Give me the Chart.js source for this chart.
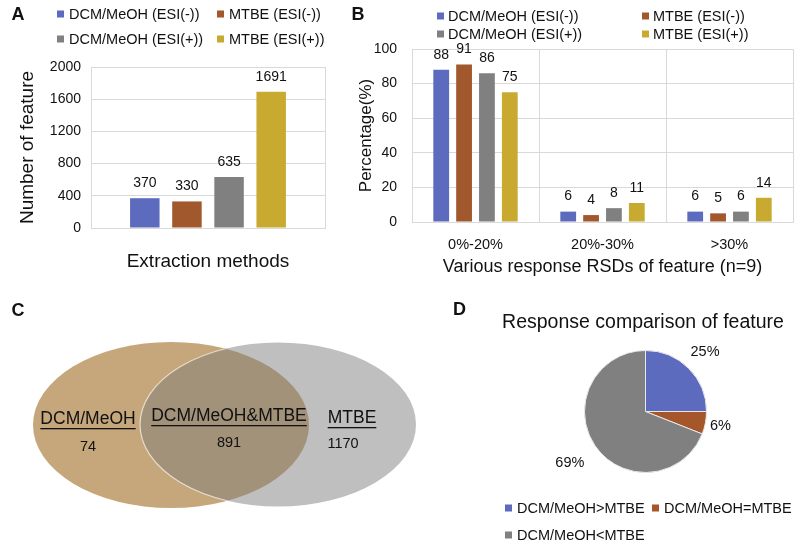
<!DOCTYPE html>
<html>
<head>
<meta charset="utf-8">
<script src="https://cdn.jsdelivr.net/npm/chart.js@4.4.0/dist/chart.umd.min.js"></script>
<style>
  body { margin: 0; background: #fff; }
  #wrap { position: relative; width: 800px; height: 546px; overflow: hidden; }
  canvas { position: absolute; }
</style>
</head>
<body>
<div id="wrap">
  <canvas id="chartA" width="335" height="285" style="left:0;top:0;width:335px;height:285px"></canvas>
  <canvas id="chartB" width="465" height="285" style="left:335px;top:0;width:465px;height:285px"></canvas>
  <canvas id="chartC" width="450" height="261" style="left:0;top:285px;width:450px;height:261px"></canvas>
  <canvas id="chartD" width="350" height="261" style="left:450px;top:285px;width:350px;height:261px"></canvas>
</div>
<script>
// data
const methods = ['DCM/MeOH (ESI(-))', 'MTBE (ESI(-))', 'DCM/MeOH (ESI(+))', 'MTBE (ESI(+))'];
const featureCounts = [370, 330, 635, 1691];

const rsdRanges = ['0%-20%', '20%-30%', '>30%'];
const rsdDcmNeg = [88, 6, 6];
const rsdMtbeNeg = [91, 4, 5];
const rsdDcmPos = [86, 8, 6];
const rsdMtbePos = [75, 11, 14];

const vennNames = ['DCM/MeOH', 'DCM/MeOH&MTBE', 'MTBE'];
const vennCounts = [74, 891, 1170];

const compareLabels = ['DCM/MeOH>MTBE', 'DCM/MeOH=MTBE', 'DCM/MeOH<MTBE'];
const comparePct = [25, 6, 69];

const methodColors = ['#5c6bbd', '#a0582c', '#808080', '#c9aa30'];
const FONT = "'Liberation Sans', Arial, sans-serif";
Chart.defaults.font.family = FONT;
Chart.defaults.color = '#111';

// little plugins: legend in a grid, value labels, free text
const gridLegend = {
  id: 'gridLegend',
  afterDraw(chart, args, opts) {
    const ctx = chart.ctx;
    let items;
    if (opts.fromLabels) {
      items = chart.data.labels.map((l, i) => ({text: l, color: chart.data.datasets[0].backgroundColor[i]}));
    } else {
      items = chart.data.datasets.map(d => ({text: d.label, color: d.backgroundColor}));
    }
    ctx.save();
    ctx.font = opts.font;
    ctx.textBaseline = 'middle';
    ctx.textAlign = 'left';
    items.forEach((it, i) => {
      const col = i % opts.cols, row = Math.floor(i / opts.cols);
      const x = opts.x + col * opts.colW, y = opts.y + row * opts.rowH;
      ctx.fillStyle = it.color;
      ctx.fillRect(x, y - opts.box / 2, opts.box, opts.box);
      ctx.fillStyle = '#111';
      ctx.fillText(it.text, x + opts.box + opts.gap, y + 1);
    });
    ctx.restore();
  }
};

const valueLabels = {
  id: 'valueLabels',
  afterDatasetsDraw(chart, args, opts) {
    const ctx = chart.ctx;
    ctx.save();
    ctx.font = opts.font;
    ctx.fillStyle = '#111';
    ctx.textAlign = 'center';
    ctx.textBaseline = 'middle';
    chart.data.datasets.forEach((ds, i) => {
      chart.getDatasetMeta(i).data.forEach((bar, j) => {
        ctx.fillText(ds.data[j], bar.x, bar.y - opts.offset);
      });
    });
    ctx.restore();
  }
};

const panelText = {
  id: 'panelText',
  afterDraw(chart, args, opts) {
    const ctx = chart.ctx;
    ctx.save();
    ctx.fillStyle = '#111';
    ctx.textBaseline = 'middle';
    for (const t of opts.items) {
      ctx.font = t.font;
      ctx.textAlign = t.align || 'center';
      ctx.fillText(t.text, t.x, t.y);
      if (t.underline) {
        const w = ctx.measureText(t.text).width;
        const x0 = t.align === 'left' ? t.x : t.x - w / 2;
        ctx.fillRect(x0, t.y + t.underline, w, 1.3);
      }
    }
    ctx.restore();
  }
};

const pieLabels = {
  id: 'pieLabels',
  afterDatasetsDraw(chart, args, opts) {
    const ctx = chart.ctx;
    const ds = chart.data.datasets[0];
    ctx.save();
    ctx.font = opts.font;
    ctx.fillStyle = '#111';
    ctx.textAlign = 'center';
    ctx.textBaseline = 'middle';
    chart.getDatasetMeta(0).data.forEach((arc, i) => {
      const mid = (arc.startAngle + arc.endAngle) / 2;
      const r = arc.outerRadius * opts.factor[i];
      ctx.fillText(ds.data[i] + '%', arc.x + Math.cos(mid) * r, arc.y + Math.sin(mid) * r);
    });
    ctx.restore();
  }
};

// venn: two ellipses drawn through the hidden linear scales
const vennPlugin = {
  id: 'venn',
  beforeDatasetsDraw(chart, args, opts) {
    const {ctx, scales: {x, y}} = chart;
    const path = s => {
      const cx = x.getPixelForValue(s.cx), cy = y.getPixelForValue(s.cy);
      const rx = Math.abs(x.getPixelForValue(s.cx + s.rx) - cx);
      const ry = Math.abs(y.getPixelForValue(s.cy + s.ry) - cy);
      ctx.beginPath();
      ctx.ellipse(cx, cy, rx, ry, 0, 0, Math.PI * 2);
    };
    const [a, b] = opts.shapes;
    ctx.save();
    path(a); ctx.fillStyle = a.color; ctx.fill();
    path(b); ctx.fillStyle = b.color; ctx.fill();
    path(a); ctx.clip();
    path(b); ctx.fillStyle = opts.overlap; ctx.fill();
    ctx.strokeStyle = opts.edge; ctx.lineWidth = 1.2; ctx.stroke();
    ctx.restore();
  }
};

const gridCol = '#d9d9d9';
const plainNum = v => String(v);

// A
new Chart(document.getElementById('chartA'), {
  type: 'bar',
  data: {
    labels: [''],
    datasets: methods.map((m, i) => ({
      label: m,
      data: [featureCounts[i]],
      backgroundColor: methodColors[i],
      categoryPercentage: 0.72,
      barPercentage: 0.7
    }))
  },
  options: {
    responsive: false,
    animation: false,
    layout: {padding: {left: 0, right: 10, top: 67, bottom: 0}},
    plugins: {
      legend: {display: false},
      tooltip: {enabled: false},
      gridLegend: {x: 57, y: 14, cols: 2, colW: 160, rowH: 25, box: 7, gap: 5, font: '14.5px ' + FONT},
      valueLabels: {offset: 15, font: '14px ' + FONT},
      panelText: {items: [{text: 'A', x: 18, y: 15, font: 'bold 18px ' + FONT}]}
    },
    scales: {
      x: {
        grid: {color: gridCol, drawTicks: false},
        border: {color: gridCol},
        ticks: {display: false},
        title: {display: true, text: 'Extraction methods', font: {size: 19}, color: '#111', padding: {bottom: 12}},
        afterFit(s) { s.height = 57; }
      },
      y: {
        min: 0, max: 2000,
        ticks: {stepSize: 400, padding: 10, font: {size: 14}, color: '#111', callback: plainNum},
        grid: {color: gridCol, drawTicks: false},
        border: {color: gridCol},
        title: {display: true, text: 'Number of feature', font: {size: 19}, color: '#111', padding: {top: 16}},
        afterFit(s) { s.width = 91; }
      }
    }
  },
  plugins: [gridLegend, valueLabels, panelText]
});

// B
const rsdSeries = [rsdDcmNeg, rsdMtbeNeg, rsdDcmPos, rsdMtbePos];
new Chart(document.getElementById('chartB'), {
  type: 'bar',
  data: {
    labels: rsdRanges,
    datasets: methods.map((m, i) => ({
      label: m,
      data: rsdSeries[i],
      backgroundColor: methodColors[i],
      categoryPercentage: 0.72,
      barPercentage: 0.69
    }))
  },
  options: {
    responsive: false,
    animation: false,
    layout: {padding: {left: 0, right: 7, top: 49, bottom: 0}},
    plugins: {
      legend: {display: false},
      tooltip: {enabled: false},
      gridLegend: {x: 102, y: 16, cols: 2, colW: 205, rowH: 18, box: 7, gap: 4, font: '14.5px ' + FONT},
      valueLabels: {offset: 15, font: '14px ' + FONT},
      panelText: {items: [{text: 'B', x: 23, y: 15, font: 'bold 18px ' + FONT}]}
    },
    scales: {
      x: {
        grid: {color: gridCol, drawTicks: false},
        border: {color: gridCol},
        ticks: {padding: 14, font: {size: 14.5}, color: '#111'},
        title: {display: true, text: 'Various response RSDs of feature (n=9)', font: {size: 18}, color: '#111', padding: {bottom: 7}},
        afterFit(s) { s.height = 63; }
      },
      y: {
        min: 0, max: 100,
        ticks: {stepSize: 20, padding: 15, font: {size: 14}, color: '#111', callback: plainNum},
        grid: {color: gridCol, drawTicks: false},
        border: {color: gridCol},
        title: {display: true, text: 'Percentage(%)', font: {size: 17}, color: '#111', padding: {top: 21}},
        afterFit(s) { s.width = 77; }
      }
    }
  },
  plugins: [gridLegend, valueLabels, panelText]
});

// C
const lab = '17.5px ' + FONT, num = '14.5px ' + FONT;
new Chart(document.getElementById('chartC'), {
  type: 'scatter',
  data: {datasets: []},
  options: {
    responsive: false,
    animation: false,
    layout: {padding: 0},
    plugins: {
      legend: {display: false},
      tooltip: {enabled: false},
      venn: {
        shapes: [
          {cx: 171, cy: 140, rx: 138, ry: 83, color: '#c6a77b'},
          {cx: 278, cy: 139.5, rx: 138, ry: 82, color: '#bfbfbf'}
        ],
        overlap: '#a29279',
        edge: '#e6dccb'
      },
      panelText: {items: [
        {text: 'C', x: 18, y: 26, font: 'bold 18px ' + FONT},
        {text: vennNames[0], x: 88, y: 134, font: lab, underline: 9},
        {text: String(vennCounts[0]), x: 88, y: 162, font: num},
        {text: vennNames[1], x: 229, y: 131, font: lab, underline: 9},
        {text: String(vennCounts[1]), x: 229, y: 158, font: num},
        {text: vennNames[2], x: 352, y: 133, font: lab, underline: 9},
        {text: String(vennCounts[2]), x: 343, y: 159, font: num}
      ]}
    },
    scales: {
      x: {type: 'linear', display: false, min: 0, max: 450},
      y: {type: 'linear', display: false, min: 0, max: 261, reverse: true}
    }
  },
  plugins: [vennPlugin, panelText]
});

// D
new Chart(document.getElementById('chartD'), {
  type: 'pie',
  data: {
    labels: compareLabels,
    datasets: [{
      data: comparePct,
      backgroundColor: ['#5c6bbd', '#a5572b', '#808080'],
      borderColor: '#e8e8e8',
      borderWidth: 1
    }]
  },
  options: {
    responsive: false,
    animation: false,
    layout: {padding: {left: 134, right: 93, top: 65, bottom: 73}},
    plugins: {
      legend: {display: false},
      tooltip: {enabled: false},
      pieLabels: {factor: [1.38, 1.25, 1.5], font: '14.5px ' + FONT},
      gridLegend: {fromLabels: true, x: 55, y: 223, cols: 2, colW: 147, rowH: 27, box: 7, gap: 5, font: '14.5px ' + FONT},
      panelText: {items: [
        {text: 'D', x: 3, y: 25, font: 'bold 18px ' + FONT, align: 'left'},
        {text: 'Response comparison of feature', x: 193, y: 38, font: '19.5px ' + FONT}
      ]}
    }
  },
  plugins: [pieLabels, gridLegend, panelText]
});
</script>
</body>
</html>
